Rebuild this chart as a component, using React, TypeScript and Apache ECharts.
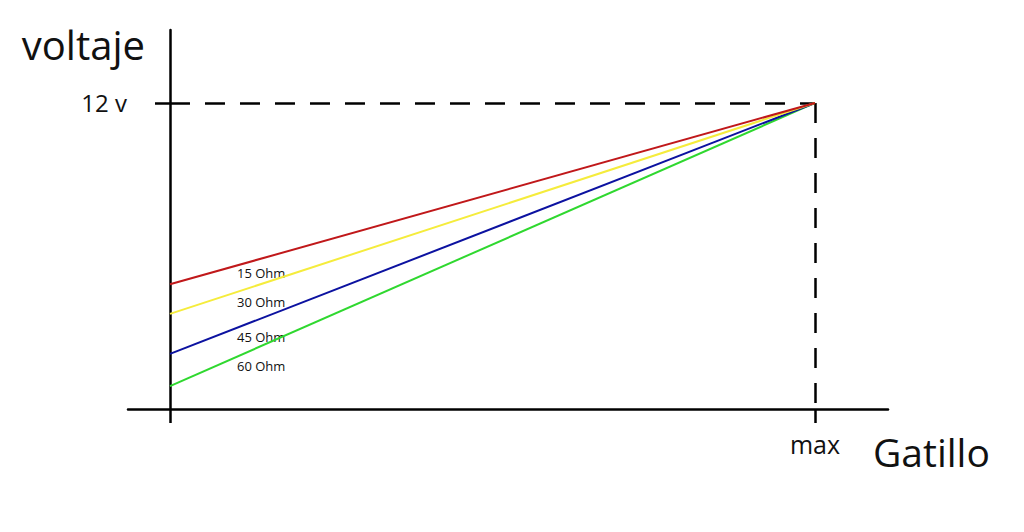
import React, { useEffect, useRef } from "react";
import * as echarts from "echarts";

const seriesNames = ["60 Ohm", "45 Ohm", "30 Ohm", "15 Ohm"];
const startValues = [0.9, 2.16, 3.73, 4.89];
const endValue = 12;
const xStart = 0;
const xEnd = 1;
const seriesColors = ["#2fd82f", "#0c12a0", "#f5ec3c", "#c0181a"];
const labelOffsetsY = [367, 338, 303, 274];

export default function App() {
  const ref = useRef<HTMLDivElement>(null);
  useEffect(() => {
    if (!ref.current) return;
    const chart = echarts.init(ref.current, undefined, { renderer: "svg" });
    const font = "'Open Sans', 'DejaVu Sans', sans-serif";
    const series: any[] = seriesNames.map((name, i) => ({
      name,
      type: "line",
      data: [
        [xStart, startValues[i]],
        [xEnd, endValue],
      ],
      symbol: "none",
      lineStyle: { color: seriesColors[i], width: 2 },
      z: 3 + i,
    }));
    series.push({
      type: "line",
      data: [],
      markLine: {
        silent: true,
        symbol: "none",
        label: { show: false },
        lineStyle: { color: "#000", width: 2.5, type: [20, 15] },
        data: [
          [{ coord: [xStart, endValue] }, { coord: [xEnd, endValue] }],
          [{ coord: [xEnd, endValue] }, { coord: [xEnd, 0] }],
        ],
      },
    });
    chart.setOption({
      animation: false,
      backgroundColor: "#fff",
      grid: { left: 128, right: 1024 - 888, top: 30, bottom: 532 - 409 },
      xAxis: {
        type: "value",
        min: -0.0651,
        max: 1.1132,
        splitLine: { show: false },
        axisLine: { onZero: true, lineStyle: { color: "#000", width: 2.5 } },
        axisTick: {
          show: true,
          customValues: [xStart, xEnd],
          length: 14,
          lineStyle: { color: "#000", width: 2.5 },
        },
        axisLabel: {
          customValues: [xEnd],
          formatter: () => "max",
          color: "#111",
          fontFamily: font,
          fontSize: 25,
          margin: 22,
        },
        name: "Gatillo",
        nameLocation: "end",
        nameGap: -15,
        nameTextStyle: {
          color: "#111",
          fontFamily: font,
          fontSize: 39,
          align: "left",
          verticalAlign: "top",
          padding: [23, 0, 0, 0],
        },
      },
      yAxis: {
        type: "value",
        min: 0,
        max: 14.86,
        splitLine: { show: false },
        axisLine: { onZero: true, lineStyle: { color: "#000", width: 2.5 } },
        axisTick: {
          show: true,
          customValues: [endValue],
          length: 15,
          lineStyle: { color: "#000", width: 2.5 },
        },
        axisLabel: {
          customValues: [endValue],
          formatter: () => "12 v",
          color: "#111",
          fontFamily: font,
          fontSize: 24,
          margin: 1,
        },
        name: "voltaje",
        nameLocation: "end",
        nameGap: -14,
        nameTextStyle: {
          color: "#111",
          fontFamily: font,
          fontSize: 40,
          align: "right",
          verticalAlign: "middle",
          padding: [0, 25, 0, 0],
        },
      },
      graphic: seriesNames.map((name, i) => ({
        type: "text",
        left: 237,
        top: labelOffsetsY[i] - 8,
        style: { text: name, fill: "#111", font: `13px ${font}` },
      })),
      series,
    });
    return () => chart.dispose();
  }, []);
  return <div ref={ref} style={{ width: 1024, height: 532, position: "absolute", left: 0, top: 0 }} />;
}
